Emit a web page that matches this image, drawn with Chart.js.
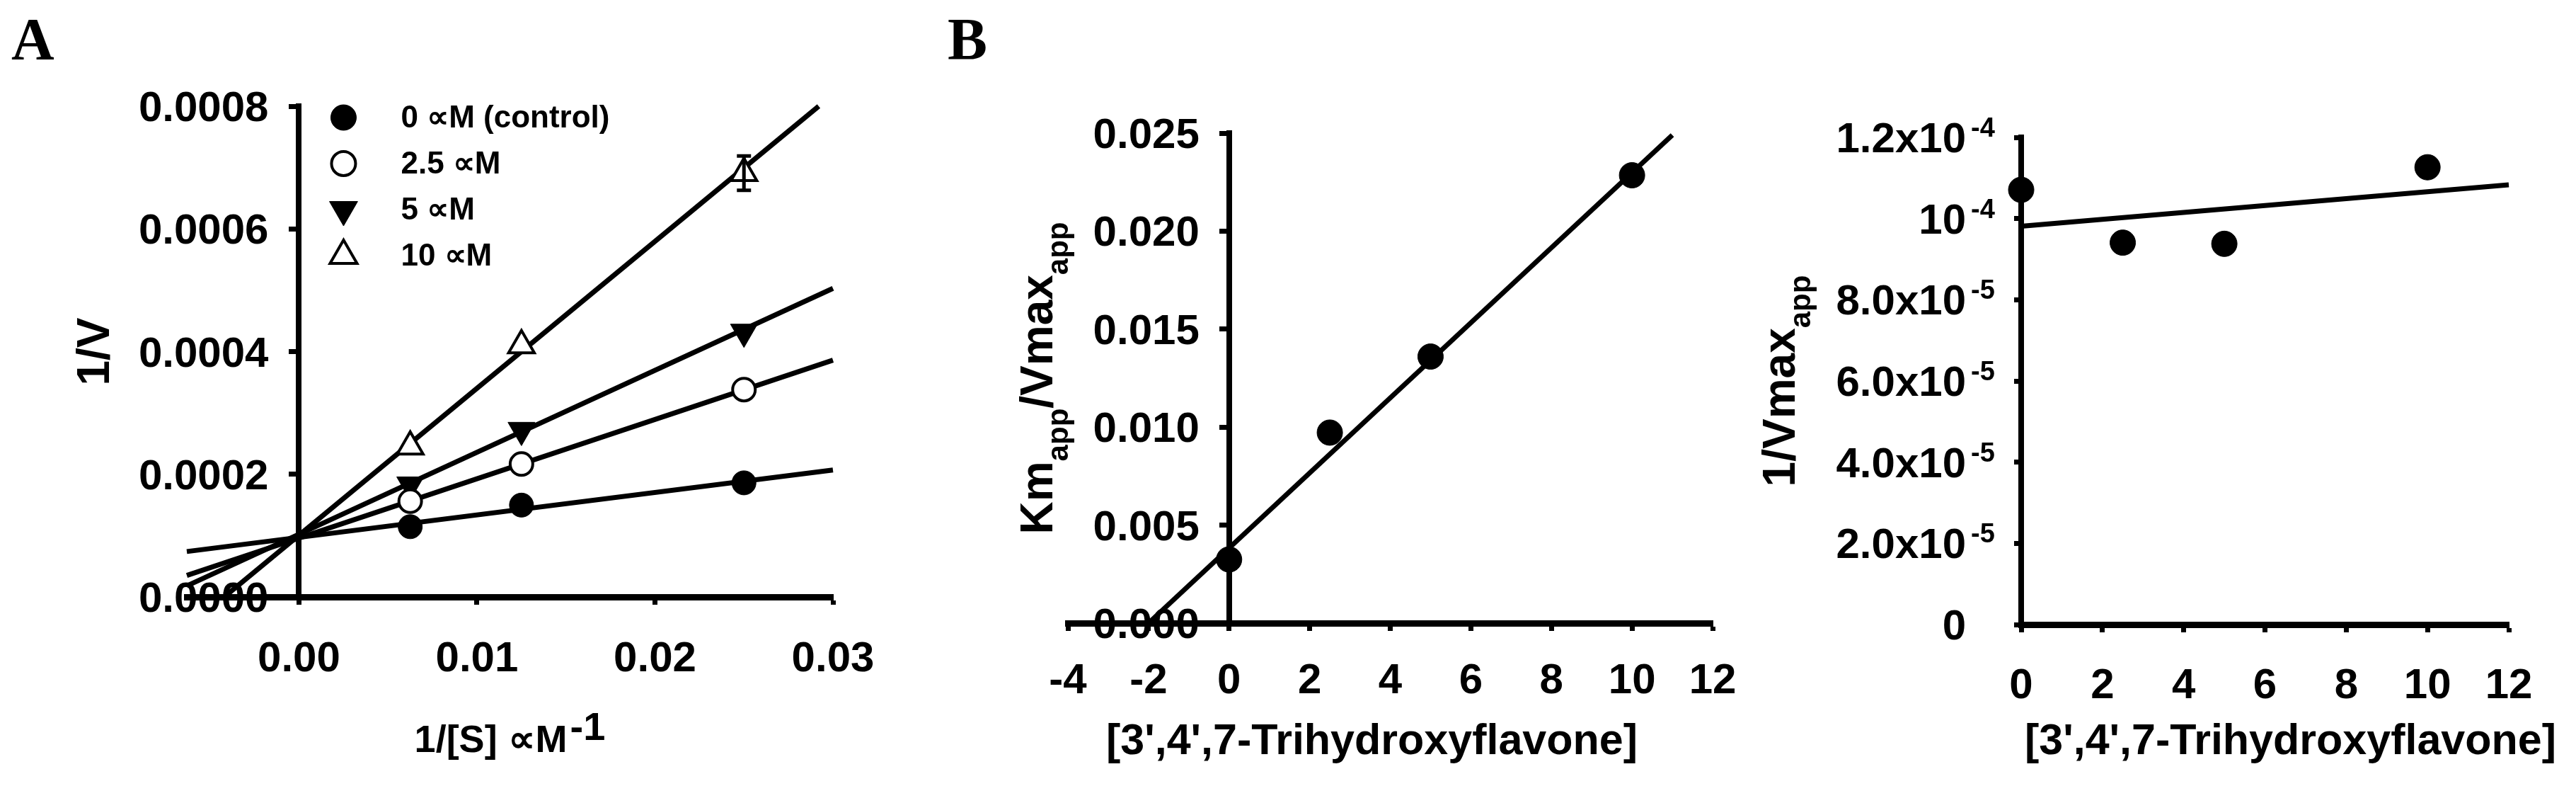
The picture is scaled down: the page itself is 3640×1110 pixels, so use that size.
<!DOCTYPE html>
<html>
<head>
<meta charset="utf-8">
<script src="https://cdn.jsdelivr.net/npm/chart.js@4.4.1/dist/chart.umd.min.js"></script>
<style>
  html, body { margin: 0; padding: 0; background: #fff; }
  #page { position: relative; width: 3640px; height: 1110px; overflow: hidden; background: #fff; }
  canvas { position: absolute; top: 0; }
  .tag { position: absolute; font-family: 'Liberation Serif', 'Times New Roman', serif; font-weight: bold; font-size: 84px; line-height: 1; color: #000; }
</style>
</head>
<body>
<div id="page">
  <div class="tag" style="left:16px; top:14px;">A</div>
  <div class="tag" style="left:1339px; top:14px;">B</div>
  <canvas id="chartA" width="1300" height="1110" style="left:0px;"></canvas>
  <canvas id="chartB" width="1260" height="1110" style="left:1260px;"></canvas>
  <canvas id="chartC" width="1160" height="1110" style="left:2480px;"></canvas>
</div>
<script>
// ---- Panel A : Lineweaver-Burk ----
const substrateInv = [0.00625, 0.0125, 0.025];          // 1/[S]
const inhibitorLabels = ['0 ∝M (control)', '2.5 ∝M', '5 ∝M', '10 ∝M'];
const rateControl = [0.0001145, 0.0001497, 0.000186];
const rate25 = [0.000156, 0.0002166, 0.000338];
const rate5 = [0.000183, 0.000272, 0.000432];
const rate10 = [0.000245, 0.00041, 0.000691];
const rate10Err = [0, 0, 0.000028];
// fitted lines: [x0, y0, x1, y1]
const fitControl = [-0.0063, 0.000074, 0.03, 0.000207];
const fit25 = [-0.0063, 0.000035, 0.03, 0.000386];
const fit5 = [-0.0063, 0.000018, 0.03, 0.000503];
const fit10 = [-0.0042, 0.0, 0.0292, 0.0008];
const xTicksA = [0, 0.01, 0.02, 0.03];
const yTicksA = [0, 0.0002, 0.0004, 0.0006, 0.0008];

// ---- Panel B : secondary plots ----
const inhibitorConc = [0, 2.5, 5, 10];
const kmOverVmax = [0.00325, 0.00972, 0.0136, 0.02285];
const fitKmOverVmax = [-2.0, 0, 11.0, 0.0249];
const xTicksB = [-4, -2, 0, 2, 4, 6, 8, 10, 12];
const yTicksB = [0, 0.005, 0.010, 0.015, 0.020, 0.025];

const invVmax = [1.0708e-4, 0.9407e-4, 0.9378e-4, 1.1264e-4];
const fitInvVmax = [0, 0.981e-4, 12, 1.083e-4];
const xTicksC = [0, 2, 4, 6, 8, 10, 12];
const yTicksC = [0, 2e-5, 4e-5, 6e-5, 8e-5, 1e-4, 1.2e-4];
const yTickBaseC = ['0', '2.0x10', '4.0x10', '6.0x10', '8.0x10', '10', '1.2x10'];
const yTickExpC = ['', '-5', '-5', '-5', '-5', '-4', '-4'];

const compoundTitle = "[3',4',7-Trihydroxyflavone]";

// ---- helpers ----
const FONT = "'Liberation Sans', Arial, Helvetica, sans-serif";
const font = size => 'bold ' + size + 'px ' + FONT;
const pts = (xs, ys) => xs.map((x, i) => ({ x: x, y: ys[i] }));
const seg = f => [{ x: f[0], y: f[1] }, { x: f[2], y: f[3] }];
const fixTicks = values => scale => { scale.ticks = values.map(v => ({ value: v })); };
const fixWidth = w => scale => { scale.width = w; };
const fixHeight = h => scale => { scale.height = h; };

// text made of pieces with sub/superscripts
function drawRich(ctx, parts, x, y, opts) {
  ctx.save();
  ctx.translate(x, y);
  if (opts.rotate) ctx.rotate(-Math.PI / 2);
  ctx.fillStyle = '#000';
  ctx.textBaseline = 'alphabetic';
  ctx.textAlign = 'left';
  let total = 0;
  parts.forEach(p => {
    ctx.font = font(p.size);
    p.w = ctx.measureText(p.text).width;
    total += p.w + (p.gap || 0);
  });
  let cx = opts.align === 'right' ? -total : (opts.align === 'center' ? -total / 2 : 0);
  parts.forEach(p => {
    ctx.font = font(p.size);
    cx += p.gap || 0;
    ctx.fillText(p.text, cx, p.shift || 0);
    cx += p.w;
  });
  ctx.restore();
}

// y tick labels next to an axis that may sit inside the plot
function drawYLabels(ctx, scale, right, values, texts, exps) {
  ctx.save();
  ctx.fillStyle = '#000';
  ctx.textBaseline = 'alphabetic';
  values.forEach((v, i) => {
    const py = scale.getPixelForValue(v);
    ctx.font = font(60);
    ctx.textAlign = 'right';
    ctx.fillText(texts[i], right, py + 21);
    if (exps && exps[i]) {
      ctx.font = font(38);
      ctx.textAlign = 'left';
      ctx.fillText(exps[i], right + 7, py - 1);
    }
  });
  ctx.restore();
}

const tickFont = { family: FONT, size: 60, weight: 'bold' };

function axisX(opts, pad, fmt) {
  const ticks = { font: tickFont, color: '#000', padding: pad, maxRotation: 0, autoSkip: false };
  if (fmt) ticks.callback = fmt;
  return Object.assign({
    type: 'linear',
    position: 'bottom',
    ticks: ticks,
    grid: { drawOnChartArea: false, drawTicks: true, tickLength: 11, tickWidth: 7, tickColor: '#000', color: '#000' },
    border: { display: true, color: '#000', width: 9 }
  }, opts);
}

function axisY(opts) {
  return Object.assign({
    type: 'linear',
    axis: 'y',
    ticks: { display: false },
    grid: { drawOnChartArea: false, drawTicks: true, tickLength: 10, tickWidth: 7, tickColor: '#000', color: '#000' },
    border: { display: true, color: '#000', width: 8 }
  }, opts);
}

const fitLine = data => ({
  label: 'fit', data: data, showLine: true, borderColor: '#000', borderWidth: 7,
  pointRadius: 0, tension: 0, fill: false, clip: false, order: 2
});

const dots = (label, data, extra) => Object.assign({
  label: label, data: data, showLine: false, pointStyle: 'circle', pointRadius: 18,
  pointBackgroundColor: '#000', pointBorderColor: '#000', pointBorderWidth: 1,
  clip: false, order: 1
}, extra);

const baseOptions = {
  responsive: false,
  animation: false,
  events: [],
  plugins: { legend: { display: false }, tooltip: { enabled: false } }
};

// ---- Chart A ----
const pointSetsA = [
  dots(inhibitorLabels[0], pts(substrateInv, rateControl), { pointRadius: 17 }),
  dots(inhibitorLabels[1], pts(substrateInv, rate25), { pointRadius: 16, pointBackgroundColor: '#fff', pointBorderWidth: 4 }),
  dots(inhibitorLabels[2], pts(substrateInv, rate5), { pointStyle: 'triangle', pointRadius: 22, pointRotation: 180 }),
  dots(inhibitorLabels[3], pts(substrateInv, rate10), { pointStyle: 'triangle', pointRadius: 21, pointBackgroundColor: '#fff', pointBorderWidth: 4 })
];

const decorA = {
  id: 'decorA',
  beforeDatasetsDraw(chart) {
    const ax = chart.scales.x.getPixelForValue(0);
    drawYLabels(chart.ctx, chart.scales.y, ax - 43, yTicksA, yTicksA.map(v => v.toFixed(4)));
  },
  afterDatasetsDraw(chart) {
    const { ctx, scales } = chart;
    ctx.save();
    ctx.strokeStyle = '#000';
    ctx.lineWidth = 5;
    rate10Err.forEach((e, i) => {
      if (!e) return;
      const px = scales.x.getPixelForValue(substrateInv[i]);
      const top = scales.y.getPixelForValue(rate10[i] + e);
      const bot = scales.y.getPixelForValue(rate10[i] - e);
      ctx.beginPath();
      ctx.moveTo(px, top); ctx.lineTo(px, bot);
      ctx.moveTo(px - 10, top); ctx.lineTo(px + 10, top);
      ctx.moveTo(px - 10, bot); ctx.lineTo(px + 10, bot);
      ctx.stroke();
    });
    ctx.restore();
  },
  afterDraw(chart) {
    const { ctx, chartArea, scales } = chart;
    const ax = scales.x.getPixelForValue(0);
    const midY = (chartArea.top + chartArea.bottom) / 2;
    const midX = (chartArea.left + chartArea.right) / 2;
    drawRich(ctx, [{ text: '1/V', size: 64 }], ax - 268, midY, { rotate: true, align: 'center' });
    drawRich(ctx, [{ text: '1/[S] ∝M', size: 54 }, { text: '-1', size: 56, shift: -17, gap: 4 }],
      midX, chartArea.bottom + 219, { align: 'center' });
    // legend inside the plot
    pointSetsA.forEach((ds, i) => {
      const y = chartArea.top + 16 + i * 65;
      ctx.save();
      ctx.fillStyle = ds.pointBackgroundColor;
      ctx.strokeStyle = ds.pointBorderColor;
      ctx.lineWidth = ds.pointBorderWidth;
      Chart.helpers.drawPoint(ctx, {
        pointStyle: ds.pointStyle, radius: ds.pointRadius + 1,
        rotation: ds.pointRotation || 0, borderWidth: ds.pointBorderWidth
      }, ax + 63, y);
      ctx.fillStyle = '#000';
      ctx.font = font(44);
      ctx.textAlign = 'left';
      ctx.textBaseline = 'middle';
      ctx.fillText(ds.label, ax + 144, y + 2);
      ctx.restore();
    });
  }
};

new Chart(document.getElementById('chartA'), {
  type: 'scatter',
  data: {
    datasets: [fitLine(seg(fitControl)), fitLine(seg(fit25)), fitLine(seg(fit5)), fitLine(seg(fit10))].concat(pointSetsA)
  },
  options: Object.assign({}, baseOptions, {
    layout: { padding: { left: 264, right: 123, top: 150, bottom: 0 } },
    scales: {
      x: axisX({ min: -0.0063, max: 0.03, afterBuildTicks: fixTicks(xTicksA), afterFit: fixHeight(267) }, 41, v => v.toFixed(2)),
      y: axisY({ position: { x: 0 }, min: 0, max: 0.0008, afterBuildTicks: fixTicks(yTicksA) })
    }
  }),
  plugins: [decorA]
});

// ---- Chart B (middle) ----
const decorB = {
  id: 'decorB',
  beforeDatasetsDraw(chart) {
    const ax = chart.scales.x.getPixelForValue(0);
    drawYLabels(chart.ctx, chart.scales.y, ax - 42, yTicksB, yTicksB.map(v => v.toFixed(3)));
  },
  afterDraw(chart) {
    const { ctx, chartArea, scales } = chart;
    const ax = scales.x.getPixelForValue(0);
    const midY = (chartArea.top + chartArea.bottom) / 2;
    const midX = (chartArea.left + chartArea.right) / 2;
    drawRich(ctx, [
      { text: 'Km', size: 64 }, { text: 'app', size: 42, shift: 22 },
      { text: '/Vmax', size: 64 }, { text: 'app', size: 42, shift: 22 }
    ], ax - 250, midY, { rotate: true, align: 'center' });
    drawRich(ctx, [{ text: compoundTitle, size: 61 }], midX - 26, chartArea.bottom + 185, { align: 'center' });
  }
};

new Chart(document.getElementById('chartB'), {
  type: 'scatter',
  data: {
    datasets: [fitLine(seg(fitKmOverVmax)), dots('Km/Vmax', pts(inhibitorConc, kmOverVmax))]
  },
  options: Object.assign({}, baseOptions, {
    layout: { padding: { left: 249, right: 100, top: 188, bottom: 0 } },
    scales: {
      x: axisX({ min: -4, max: 12, afterBuildTicks: fixTicks(xTicksB), afterFit: fixHeight(230) }, 35),
      y: axisY({ position: { x: 0 }, min: 0, max: 0.025, afterBuildTicks: fixTicks(yTicksB) })
    }
  }),
  plugins: [decorB]
});

// ---- Chart C (right) ----
const decorC = {
  id: 'decorC',
  beforeDatasetsDraw(chart) {
    const ax = chart.scales.x.getPixelForValue(0);
    drawYLabels(chart.ctx, chart.scales.y, ax - 78, yTicksC, yTickBaseC, yTickExpC);
  },
  afterDraw(chart) {
    const { ctx, chartArea, scales } = chart;
    const ax = scales.x.getPixelForValue(0);
    const midY = (chartArea.top + chartArea.bottom) / 2;
    const midX = (chartArea.left + chartArea.right) / 2;
    drawRich(ctx, [{ text: '1/Vmax', size: 64 }, { text: 'app', size: 42, shift: 22 }],
      ax - 320, midY, { rotate: true, align: 'center' });
    drawRich(ctx, [{ text: compoundTitle, size: 61 }], midX + 36, chartArea.bottom + 183, { align: 'center' });
  }
};

new Chart(document.getElementById('chartC'), {
  type: 'scatter',
  data: {
    datasets: [fitLine(seg(fitInvVmax)), dots('1/Vmax', pts(inhibitorConc, invVmax))]
  },
  options: Object.assign({}, baseOptions, {
    layout: { padding: { left: 0, right: 95, top: 194, bottom: 0 } },
    scales: {
      x: axisX({ min: 0, max: 12, afterBuildTicks: fixTicks(xTicksC), afterFit: fixHeight(228) }, 40),
      y: axisY({ position: 'left', min: 0, max: 1.2e-4, afterBuildTicks: fixTicks(yTicksC), afterFit: fixWidth(376) })
    }
  }),
  plugins: [decorC]
});
</script>
</body>
</html>
